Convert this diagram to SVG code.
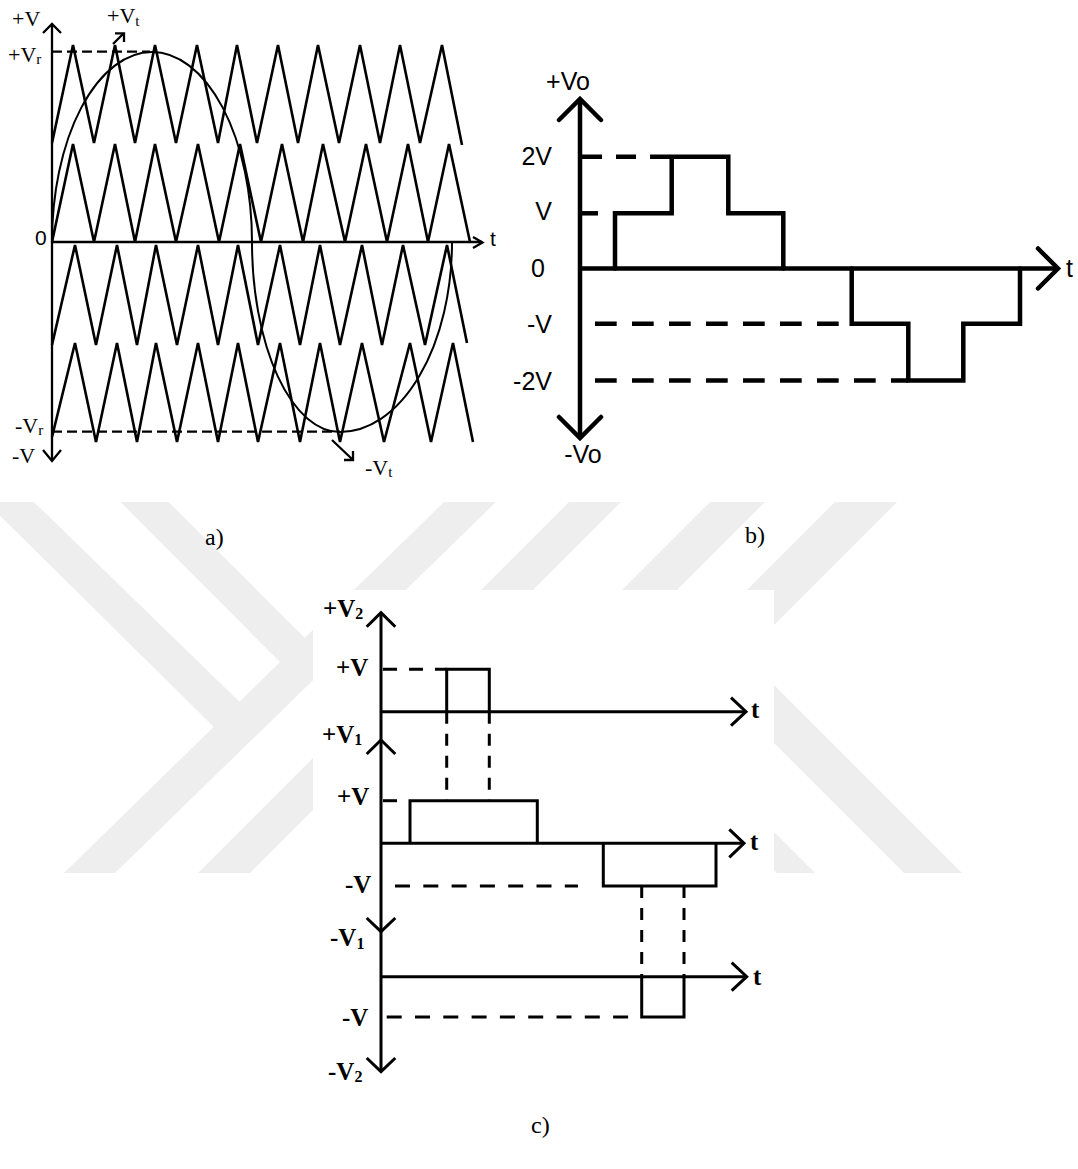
<svg xmlns="http://www.w3.org/2000/svg" width="1078" height="1169" viewBox="0 0 1078 1169">
<style>
.wm{fill:#eeeeee}
.ax{fill:none;stroke:#000;stroke-width:2.3}
.wv{fill:none;stroke:#000;stroke-width:2.6;stroke-linejoin:miter}
.sn{fill:none;stroke:#000;stroke-width:2}
.da{fill:none;stroke:#000;stroke-width:2.2;stroke-dasharray:10 5}
.ta{font-family:"Liberation Serif","Times New Roman",serif;font-size:22px;fill:#000}
.tas{font-family:"Liberation Sans",Arial,sans-serif;font-size:21px;fill:#000}
.sub{font-size:15px}
.bl{fill:none;stroke:#000;stroke-width:4.5;stroke-linejoin:miter}
.bd{fill:none;stroke:#000;stroke-width:4.5;stroke-dasharray:21.7 15.3}
.tb{font-family:"Liberation Sans",Arial,sans-serif;font-size:25px;fill:#000}
.cl{fill:none;stroke:#000;stroke-width:3;stroke-linejoin:miter}
.cdh{fill:none;stroke:#000;stroke-width:3;stroke-dasharray:15 13.3}
.cdv{fill:none;stroke:#000;stroke-width:3;stroke-dasharray:12 10}
.tc{font-family:"Liberation Serif","Times New Roman",serif;font-weight:bold;font-size:25px;fill:#000}
.tcs{font-size:16px}
.cap{font-family:"Liberation Serif","Times New Roman",serif;font-size:24px;fill:#000}
</style>

<g id="watermark">
  <polygon class="wm" points="-14,502 34,502 250,712 224,737"/>
  <polygon class="wm" points="444,502 496,502 115,873 64,873"/>
  <polygon class="wm" points="120.5,502 168.7,502 316.5,649.5 292,674"/>
  <polygon class="wm" points="569,502 621,502 250,873 198,873"/>
  <polygon class="wm" points="710,502 765,502 394,873 339,873"/>
  <polygon class="wm" points="835,502 897,502 526,873 464,873"/>
  <polygon class="wm" points="744,655 962,873 904,873 715,684"/>
  <polygon class="wm" points="591,649 815,873 777,873 572,668"/>
  <rect x="313" y="590" width="461" height="490" fill="#fff"/>
</g>

<g id="panel-a">
  <g id="a-axes">
    <path class="ax" d="M52,24 V461 M52,242 H482"/>
    <path class="ax" d="M43,33 L52,24 L61,33 M43,450 L52,461 L61,450 M473,237 L482.5,242.5 L473,248"/>
  </g>
  <g id="a-carriers">
    <polyline class="wv" points="52,143 73,45 94,143 115,45 135,143 155,45 176,143 197,45 218,143 237,45 257,143 278,45 298,143 318,45 339,143 360,45 380,143 400,45 420,143 442,45 462,145"/>
    <polyline class="wv" points="52,242 73,144 94,242 115,144 135,242 155,144 176,242 198,144 219,242 240,144 261,242 282,144 303,242 323,144 345,242 366,144 387,242 408,144 428,242 449,144 470,242"/>
    <polyline class="wv" points="52,345 75,245 96,345 117,245 137,345 156,245 177,345 198,245 218,345 238,245 258,345 280,245 300,345 320,245 340,345 362,245 382,345 403,245 425,345 447,245 467,343"/>
    <polyline class="wv" points="52,437 75,343 96,442 117,343 137,442 156,343 177,442 198,343 218,442 238,343 258,442 280,343 300,442 320,343 340,442 362,343 384,442 410,343 431,442 453,343 473,442"/>
  </g>
  <path id="a-reference" class="sn" d="M52,242 A100,190 0 0 1 252,242 A88,190 0 0 0 340,432 A112,190 0 0 0 452,242"/>
  <g id="a-levels">
    <path class="da" d="M52,51.7 H150"/>
    <path class="da" d="M52,431.7 H340"/>
    <path class="ax" d="M113,44 L123.5,33.5 M115,33.3 H124 V42"/>
    <path class="ax" d="M332,440 L352.5,459.5 M344,460 H353 V451"/>
  </g>
  <g id="a-labels">
    <text class="ta" x="12" y="26">+V</text>
    <text class="ta" x="107" y="23">+V<tspan class="sub" dy="3">t</tspan></text>
    <text class="ta" x="8" y="62">+V<tspan class="sub" dy="2">r</tspan></text>
    <text class="tas" x="35" y="245">0</text>
    <text class="tas" x="490" y="246">t</text>
    <text class="ta" x="15" y="433">-V<tspan class="sub" dy="2">r</tspan></text>
    <text class="ta" x="12" y="463">-V</text>
    <text class="ta" x="365" y="475">-V<tspan class="sub" dy="2">t</tspan></text>
  </g>
  <text id="cap-a" class="cap" x="205" y="545">a)</text>
</g>

<g id="panel-b">
  <g id="b-axes">
    <path class="bl" d="M580,99 V438 M580,268.5 H1057"/>
    <path class="bl" stroke-linecap="round" d="M559,120 L580,99 L601,120 M559,417 L580,438 L601,417 M1038,248.5 L1058,268.5 L1038,288.5"/>
  </g>
  <g id="b-output">
    <path class="bl" stroke-linecap="round" d="M615,268.5 V213.3 H671.7 V156.7 H728.3 V213.3 H783.3 V268.5"/>
    <path class="bl" stroke-linecap="round" d="M851.7,268.5 V323.7 H908.3 V380.5 H963.3 V323.7 H1020 V268.5"/>
  </g>
  <g id="b-levels">
    <path class="bl" stroke-dasharray="20 14" d="M582,156.7 H671.7"/>
    <path class="bl" d="M582,213.3 H598"/>
    <path class="bd" d="M595,323.7 H838.7"/>
    <path class="bd" d="M595,380.5 H908.3"/>
  </g>
  <g id="b-labels">
    <text class="tb" x="568" y="90" text-anchor="middle">+Vo</text>
    <text class="tb" x="552" y="165" text-anchor="end">2V</text>
    <text class="tb" x="552" y="220" text-anchor="end">V</text>
    <text class="tb" x="538" y="277" text-anchor="middle">0</text>
    <text class="tb" x="552" y="333" text-anchor="end">-V</text>
    <text class="tb" x="552" y="390" text-anchor="end">-2V</text>
    <text class="tb" x="583" y="463" text-anchor="middle">-Vo</text>
    <text class="tb" x="1066" y="277">t</text>
  </g>
  <text id="cap-b" class="cap" x="745" y="543">b)</text>
</g>

<g id="panel-c">
  <g id="c-axes">
    <path class="cl" d="M381,612.7 V1071.7 M381,711.7 H745 M381,843.3 H743 M381,976.7 H745.7"/>
    <path class="cl" d="M366.7,626.7 L381,612.7 L395.3,626.7 M366.7,754 L381,740 L395.3,754 M366.7,918 L381,931.7 L395.3,918 M366.7,1058 L381,1071.7 L395.3,1058 M731,697.7 L746,711.7 L731,725.7 M729.3,829.3 L744,843.3 L729.3,857.3 M731.7,962.7 L746.7,976.7 L731.7,990.7"/>
  </g>
  <g id="c-pulses">
    <path class="cl" d="M446.7,711.7 V669.3 H489.3 V711.7"/>
    <path class="cl" d="M410,843.3 V800.7 H537.3 V843.3"/>
    <path class="cl" d="M603.3,843.3 V886 H716 V843.3"/>
    <path class="cl" d="M641.7,976.7 V1017 H684 V976.7"/>
  </g>
  <g id="c-links">
    <path class="cl" stroke-dasharray="14 12" d="M383,669.3 H446.7"/>
    <path class="cl" d="M383,800.7 H397"/>
    <path class="cdh" d="M395,886 H578"/>
    <path class="cdh" d="M386.7,1017 H641.7"/>
    <path class="cdv" d="M446.7,711.7 V800.7 M489.3,711.7 V800.7"/>
    <path class="cdv" d="M641.7,886 V976.7 M684,886 V976.7"/>
  </g>
  <g id="c-labels">
    <text class="tc" x="323" y="617">+V<tspan class="tcs" dy="2">2</tspan></text>
    <text class="tc" x="336" y="676">+V</text>
    <text class="tc" x="322" y="743">+V<tspan class="tcs" dy="2">1</tspan></text>
    <text class="tc" x="337" y="805">+V</text>
    <text class="tc" x="345" y="893">-V</text>
    <text class="tc" x="330" y="946">-V<tspan class="tcs" dy="3">1</tspan></text>
    <text class="tc" x="342" y="1026">-V</text>
    <text class="tc" x="328" y="1080">-V<tspan class="tcs" dy="2">2</tspan></text>
    <text class="tc" x="751" y="718">t</text>
    <text class="tc" x="750" y="850">t</text>
    <text class="tc" x="753" y="985">t</text>
  </g>
  <text id="cap-c" class="cap" x="531" y="1133">c)</text>
</g>
</svg>
